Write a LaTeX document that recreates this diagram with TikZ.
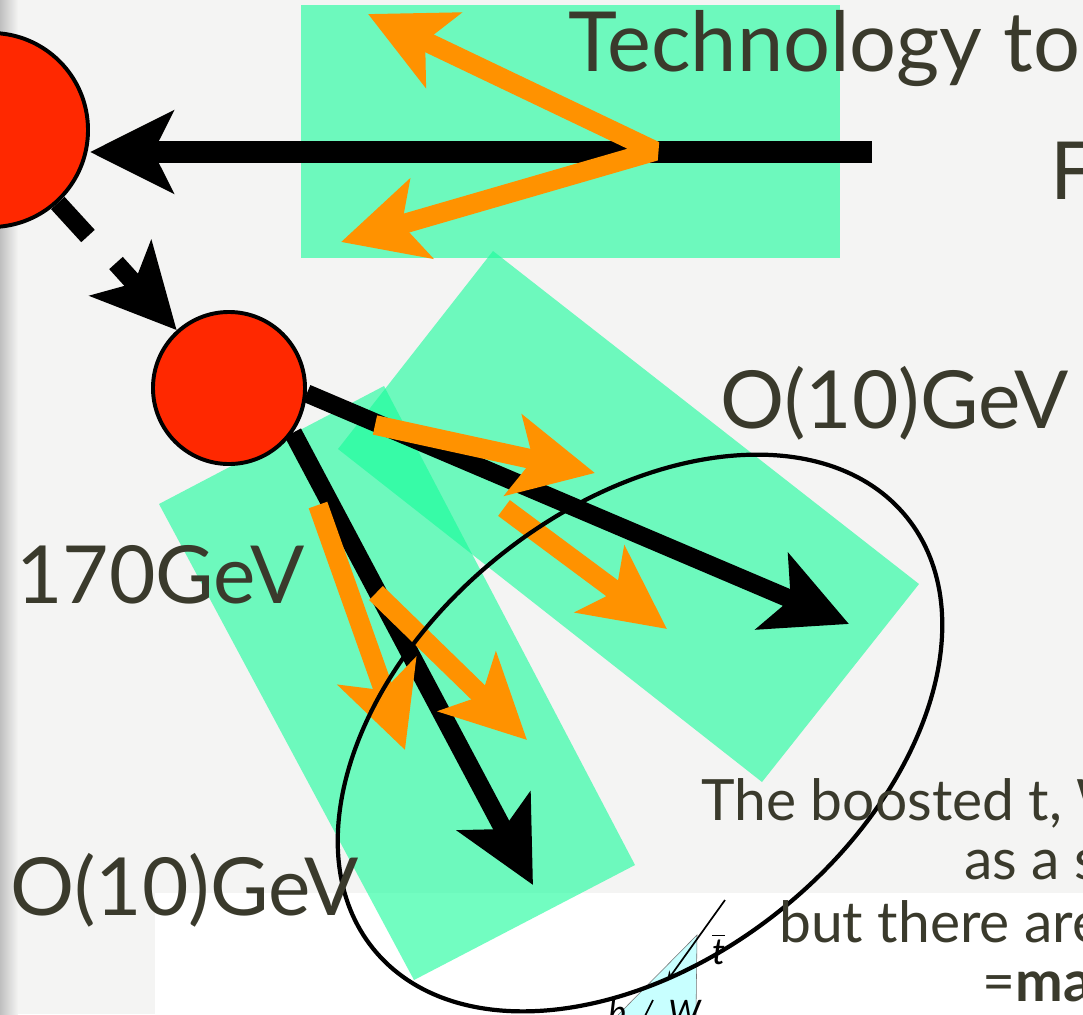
\documentclass[tikz,border=0pt]{standalone}
\usepackage{fontspec}
\setmainfont{Lato}
\usetikzlibrary{arrows.meta}
\definecolor{paper}{RGB}{244,244,243}
\definecolor{ink}{RGB}{58,58,44}
\definecolor{mint}{RGB}{20,253,153}
\definecolor{ballred}{RGB}{255,40,0}
\definecolor{orng}{RGB}{255,146,0}
\definecolor{icecyan}{RGB}{200,255,255}
\pgfdeclarelayer{back}
\pgfdeclarelayer{under}
\pgfsetlayers{back,under,main}
\begin{document}
\begin{tikzpicture}[x=0.025cm,y=-0.025cm,
  >={Stealth[length=59pt 0,width=58pt 0,inset=14pt 0]},
  label/.style={text=ink,inner sep=0,anchor=base west},
  huge/.style={label,font=\fontsize{57}{62}\selectfont},
  note/.style={label,font=\fontsize{40.5}{46}\selectfont},
  blk/.style={line width=13pt,black},
  mainline/.style={line width=15pt,black},
  org/.style={line width=14pt,orng},
  zone/.style={fill=mint,fill opacity=0.6},
  ball/.style={circle,fill=ballred,draw=black,line width=2.8pt,inner sep=0}]
\useasboundingbox (0,0) rectangle (1083,1014);
\clip (0,0) rectangle (1083,1014);

\begin{pgfonlayer}{back}
  % paper and shading at the left edge
  \fill[paper] (0,0) rectangle (1083,1014);
  \shade[left color=black!25,right color=paper] (0,0) rectangle (18,1014);
  \fill[white] (155,893) rectangle (1083,1014);
  % translucent green zones
  \fill[zone] (384,386) -- (635,865) -- (414,980) -- (159,504) -- cycle;
  \fill[zone] (493,251) -- (919,584) -- (762,782) -- (338,449) -- cycle;
  \fill[zone] (301,5) rectangle (840,258);
\end{pgfonlayer}

% the two decay vertices
\node[ball,minimum size=4.85cm] (big) at (-9,130) {};
\node[ball,minimum size=3.8cm] (small) at (229,388) {};

% black particle lines (kept under the vertices)
\coordinate (src) at (872,152);
\coordinate (k1) at (88,236);
\coordinate (k2) at (116,263);
\coordinate (t1) at (849,624);
\coordinate (t2) at (533,885);
\begin{pgfonlayer}{under}
  \draw[mainline,->] (src) -- (src -| big.east);
  \draw[blk] (big) -- (k1);
  \draw[blk,->] (k2) -- (small);
  \draw[blk,->] (small.-4) -- (t1);
  \draw[blk,->] (small.-35) -- (t2);
\end{pgfonlayer}

% orange arrows
\coordinate (va) at (368,14);
\coordinate (vb) at (655,151);
\coordinate (vc) at (341,242);
\draw[org,line join=bevel,<->] (va) -- (vb) -- (vc);
\coordinate (o1a) at (375,425); \coordinate (o1b) at (595,473);
\coordinate (o2a) at (504,508); \coordinate (o2b) at (667,629);
\coordinate (o3a) at (318,505); \coordinate (o3b) at (405,750);
\coordinate (o4a) at (376,593); \coordinate (o4b) at (527,740);
\draw[org,->] (o1a) -- (o1b);
\draw[org,->] (o2a) -- (o2b);
\draw[org,->] (o3a) -- (o3b);
\draw[org,->] (o4a) -- (o4b);

% small inset picture
\fill[icecyan,draw=black!55,line width=0.4pt] (697,935) -- (696,1016) -- (617,1016) -- cycle;
\coordinate (ia) at (725,900);
\coordinate (ib) at (667,981);
\draw[line width=1.2pt,-{Stealth[length=7pt,width=6pt]}] (ia) -- (ib);
\coordinate (ic) at (653,1000);
\coordinate (id) at (645,1016);
\draw[line width=1.2pt] (ic) -- (id);
\node[anchor=base west,inner sep=0,font=\fontsize{26}{28}\selectfont\itshape] (tbar) at (712,964) {\rlap{\rule[20pt]{9pt}{0.8pt}}t};
\node[anchor=base west,inner sep=0,font=\fontsize{24}{26}\selectfont\itshape] (lb) at (608,1024) {b};
\node[anchor=base west,inner sep=0,font=\fontsize{24}{26}\selectfont\itshape] (lw) at (668,1024) {W};

% boosted-system ellipse
\draw[line width=3pt,rotate around={39:(640,733)}] (640,733) ellipse [x radius=8.575cm,y radius=5.65cm];

% labels
\node[label,font=\fontsize{59}{64}\selectfont] (tech) at (568,71) {Technology to};
\node[huge] (fl) at (1050,199) {F};
\node[huge] (eR) at (720,428) {O(10)GeV};
\node[huge] (top) at (16,603) {170GeV};
\node[huge] (eL) at (10,915) {O(10)GeV};
\node[note] (n1) at (701,820) {The boosted t, W};
\node[note] (n2) at (964,879) {as a s};
\node[note] (n3) at (779,942) {but there are};
\node[note] (n4) at (982,1001) {=\textbf{ma}};
\end{tikzpicture}
\end{document}
